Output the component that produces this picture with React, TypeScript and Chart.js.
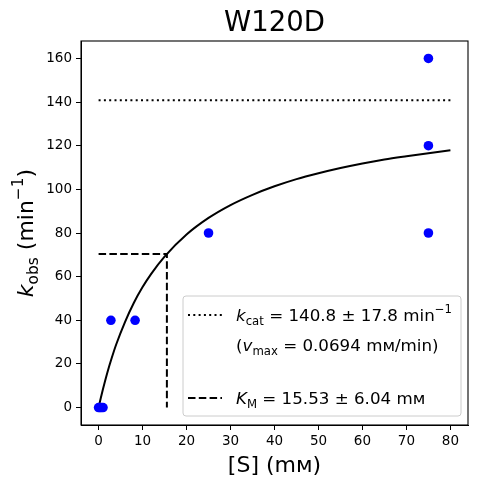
import React, { useEffect, useRef } from "react";
import { Chart, registerables } from "chart.js";

Chart.register(...registerables);

// measured substrate concentrations (mM) and observed rates (min^-1)
const substrate = [0, 0.3, 0.6, 1.0, 2.8, 8.3, 25, 75, 75, 75];
const kObs = [0, 0, 0, 0, 40, 40, 80, 160, 120, 80];

// fitted Michaelis-Menten curve
const fitX = [0, 0.5, 1, 2, 3, 4, 6, 8, 10, 12, 15, 20, 25, 30, 35, 40, 45, 50, 55, 60, 65, 70, 75, 80];
const fitY = [0, 4.4, 8.5, 16.1, 22.8, 28.9, 39.2, 47.9, 55.2, 61.4, 69.2, 79.3, 86.9, 92.8, 97.5, 101.4, 104.7, 107.4, 109.8, 111.9, 113.7, 115.2, 116.6, 117.9];

const kcat = 140.8;
const kcatErr = 17.8;
const vmax = 0.0694;
const km = 15.53;
const kmErr = 6.04;

const xTicks = [0, 10, 20, 30, 40, 50, 60, 70, 80];
const yTicks = [0, 20, 40, 60, 80, 100, 120, 140, 160];

const FONT = "'DejaVu Sans', sans-serif";

type Piece = { t: string; it?: boolean; sub?: boolean; sup?: boolean };

// draw a mathtext-like string made of pieces, left aligned at baseline
function drawRich(ctx: CanvasRenderingContext2D, x: number, y: number, size: number, parts: Piece[]) {
  let cx = x;
  for (const p of parts) {
    const s = p.sub || p.sup ? size * 0.7 : size;
    ctx.font = `${p.it ? "oblique " : ""}${s}px ${FONT}`;
    const dy = p.sub ? size * 0.22 : p.sup ? -size * 0.45 : 0;
    ctx.fillText(p.t, cx, y + dy);
    cx += ctx.measureText(p.t).width;
  }
  return cx - x;
}

function richWidth(ctx: CanvasRenderingContext2D, size: number, parts: Piece[]) {
  let w = 0;
  for (const p of parts) {
    const s = p.sub || p.sup ? size * 0.7 : size;
    ctx.font = `${p.it ? "oblique " : ""}${s}px ${FONT}`;
    w += ctx.measureText(p.t).width;
  }
  return w;
}

const decorations = {
  id: "decorations",
  afterDraw(chart: Chart) {
    const ctx = chart.ctx;
    const { left, right, top, bottom } = chart.chartArea;
    ctx.save();
    ctx.fillStyle = "#000";
    ctx.textBaseline = "alphabetic";

    // frame
    ctx.strokeStyle = "#000";
    ctx.lineWidth = 1.1;
    ctx.strokeRect(left, top, right - left, bottom - top);

    // title
    ctx.font = `27.5px ${FONT}`;
    ctx.textAlign = "center";
    ctx.fillText("W120D", (left + right) / 2, 31);

    // x label
    ctx.font = `22px ${FONT}`;
    ctx.fillText("[S] (mм)", (left + right) / 2, 472);
    ctx.textAlign = "left";

    // y label (rotated)
    const yl: Piece[] = [{ t: "k", it: true }, { t: "obs", sub: true }, { t: " (min" }, { t: "\u22121", sup: true }, { t: ")" }];
    const w = richWidth(ctx, 22, yl);
    ctx.save();
    ctx.translate(33, (top + bottom) / 2);
    ctx.rotate(-Math.PI / 2);
    drawRich(ctx, -w / 2, 0, 22, yl);
    ctx.restore();

    // legend
    const lx = 183, ly = 296, lw = 278, lh = 120;
    ctx.fillStyle = "rgba(255,255,255,0.8)";
    ctx.strokeStyle = "#cccccc";
    ctx.lineWidth = 1;
    ctx.beginPath();
    ctx.roundRect(lx, ly, lw, lh, 3);
    ctx.fill();
    ctx.stroke();

    ctx.strokeStyle = "#000";
    ctx.lineWidth = 2;
    ctx.setLineDash([2, 3.3]);
    ctx.beginPath();
    ctx.moveTo(188, 315);
    ctx.lineTo(222, 315);
    ctx.stroke();
    ctx.setLineDash([7.5, 3.3]);
    ctx.beginPath();
    ctx.moveTo(188, 398);
    ctx.lineTo(222, 398);
    ctx.stroke();
    ctx.setLineDash([]);

    ctx.fillStyle = "#000";
    const fs = 16.7;
    drawRich(ctx, 236, 321, fs, [
      { t: "k", it: true }, { t: "cat", sub: true },
      { t: ` = ${kcat.toFixed(1)} \u00b1 ${kcatErr.toFixed(1)} min` }, { t: "\u22121", sup: true },
    ]);
    drawRich(ctx, 236, 351, fs, [
      { t: "(" }, { t: "v", it: true }, { t: "max", sub: true },
      { t: ` = ${vmax.toFixed(4)} mм/min)` },
    ]);
    drawRich(ctx, 236, 404, fs, [
      { t: "K", it: true }, { t: "M", sub: true },
      { t: ` = ${km.toFixed(2)} \u00b1 ${kmErr.toFixed(2)} mм` },
    ]);
    ctx.restore();
  },
};

export default function App() {
  const canvasRef = useRef<HTMLCanvasElement>(null);

  useEffect(() => {
    document.body.style.margin = "0";
    const chart = new Chart(canvasRef.current!, {
      type: "scatter",
      data: {
        datasets: [
          {
            label: "data",
            data: substrate.map((x, i) => ({ x, y: kObs[i] })),
            backgroundColor: "#0000ff",
            borderColor: "#0000ff",
            pointRadius: 4.8,
            borderWidth: 0,
            order: 0,
          },
          {
            label: "fit",
            type: "line",
            data: fitX.map((x, i) => ({ x, y: fitY[i] })),
            borderColor: "#000",
            borderWidth: 2,
            pointRadius: 0,
            cubicInterpolationMode: "monotone",
            fill: false,
            order: 1,
          },
          {
            label: "kcat",
            type: "line",
            data: [{ x: 0, y: kcat }, { x: 80, y: kcat }],
            borderColor: "#000",
            borderWidth: 2,
            borderDash: [2, 3.3],
            pointRadius: 0,
            order: 2,
          },
          {
            label: "KM",
            type: "line",
            data: [{ x: 0, y: kcat / 2 }, { x: km, y: kcat / 2 }, { x: km, y: 0 }],
            borderColor: "#000",
            borderWidth: 2,
            borderDash: [7.5, 3.3],
            pointRadius: 0,
            order: 3,
          },
        ],
      },
      options: {
        animation: false,
        responsive: false,
        maintainAspectRatio: false,
        devicePixelRatio: 1,
        layout: { padding: { top: 41, right: 10, left: 0, bottom: 0 } },
        plugins: { legend: { display: false }, tooltip: { enabled: false }, title: { display: false } },
        scales: {
          x: {
            type: "linear",
            min: -4,
            max: 84,
            afterBuildTicks: (s: any) => { s.ticks = xTicks.map((value) => ({ value })); },
            afterFit: (s: any) => { s.height = 59; },
            grid: { drawOnChartArea: false, drawTicks: true, tickLength: 5, color: "#000", lineWidth: 1 },
            border: { display: true, color: "#000", width: 1 },
            ticks: { color: "#000", font: { family: "DejaVu Sans", size: 13.5 }, padding: 3, maxRotation: 0 },
          },
          y: {
            type: "linear",
            min: -8,
            max: 168,
            afterBuildTicks: (s: any) => { s.ticks = yTicks.map((value) => ({ value })); },
            afterFit: (s: any) => { s.width = 81; },
            grid: { drawOnChartArea: false, drawTicks: true, tickLength: 5, color: "#000", lineWidth: 1 },
            border: { display: true, color: "#000", width: 1 },
            ticks: { color: "#000", font: { family: "DejaVu Sans", size: 13.5 }, padding: 4 },
          },
        },
      },
      plugins: [decorations],
    });
    return () => chart.destroy();
  }, []);

  return (
    <div style={{ width: 478, height: 484, background: "#fff" }}>
      <canvas ref={canvasRef} width={478} height={484} style={{ width: 478, height: 484 }} />
    </div>
  );
}
